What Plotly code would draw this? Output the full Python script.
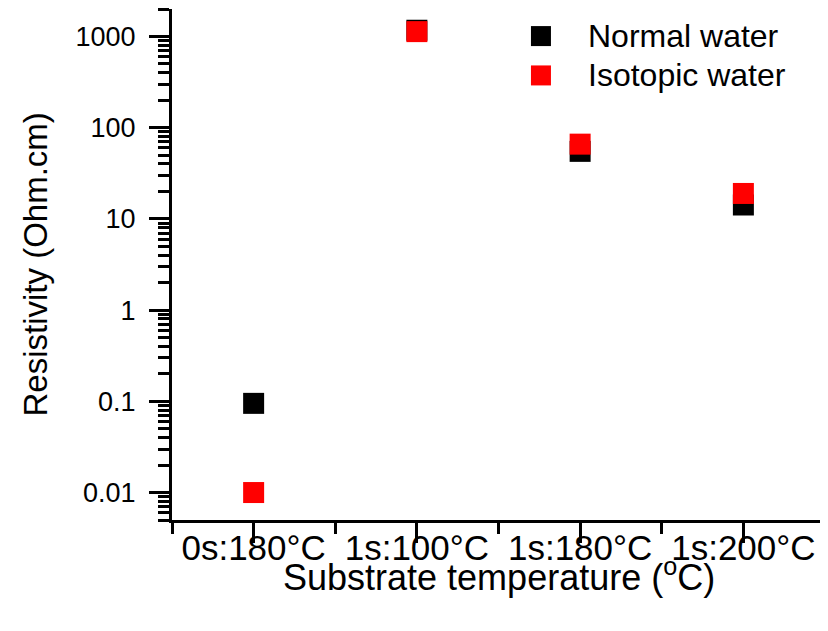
import math
import plotly.graph_objects as go

# ---- data ----
categories = ["0s:180°C", "1s:100°C", "1s:180°C", "1s:200°C"]
normal_water = [0.095, 1170, 55, 14.2]
isotopic_water = [0.010, 1130, 66, 19]
series_names = ["Normal water", "Isotopic water"]
series_colors = ["#000000", "#FF0000"]
y_tick_vals = [0.01, 0.1, 1, 10, 100, 1000]
y_tick_text = ["0.01", "0.1", "1", "10", "100", "1000"]
x_title = "Substrate temperature (<sup>o</sup>C)"
y_title = "Resistivity (Ohm.cm)"

FONT = "Liberation Sans, Arial, sans-serif"
xpos = list(range(len(categories)))

fig = go.Figure()
for name, vals, col in zip(series_names, [normal_water, isotopic_water], series_colors):
    fig.add_trace(go.Scatter(
        x=xpos, y=vals, mode="markers", name=name, showlegend=False,
        marker=dict(symbol="square", size=21, color=col, line=dict(width=0)),
        cliponaxis=False,
    ))

# legend swatches on an overlay axis (0..1)
leg_y = [0.947, 0.870]
for name, col, ly in zip(series_names, series_colors, leg_y):
    fig.add_trace(go.Scatter(
        x=[0.565], y=[ly], mode="markers", showlegend=False, xaxis="x2", yaxis="y2",
        marker=dict(symbol="square", size=20, color=col, line=dict(width=0)),
        hoverinfo="skip",
    ))
    fig.add_annotation(x=0.634, y=ly, xref="paper", yref="paper", text=name,
                       showarrow=False, xanchor="left", yanchor="middle",
                       font=dict(family=FONT, size=32, color="#000000"))

# axis titles
fig.add_annotation(x=0.5, y=-0.157, xref="paper", yref="paper", text=x_title,
                   showarrow=False, xanchor="center", yanchor="bottom",
                   font=dict(family=FONT, size=36, color="#000000"))
fig.add_annotation(x=-0.2098, y=0.5, xref="paper", yref="paper", text=y_title,
                   showarrow=False, xanchor="center", yanchor="middle", textangle=-90,
                   font=dict(family=FONT, size=33, color="#000000"))

minor_y = [k * 10 ** e for e in range(-3, 4) for k in range(2, 10)
           if 0.005 <= k * 10 ** e <= 2000]

# the page body adds an 8px offset, so the figure is 8px smaller and margins shifted
fig.update_layout(
    width=820, height=623,
    paper_bgcolor="white", plot_bgcolor="white",
    margin=dict(l=164, r=3, t=1, b=111),
    font=dict(family=FONT, color="#000000"),
    xaxis=dict(
        range=[-0.5, 3.5], tickvals=xpos, ticktext=categories, automargin=False,
        showgrid=False, zeroline=False, showline=True, linecolor="#000000", linewidth=3,
        ticks="outside", ticklen=20, tickwidth=3, tickcolor="#000000",
        ticklabelstandoff=-25,
        tickfont=dict(family=FONT, size=35, color="#000000"),
        minor=dict(tickvals=[-0.5, 0.5, 1.5, 2.5, 3.5], ticks="outside",
                   ticklen=11, tickwidth=3, tickcolor="#000000", showgrid=False),
    ),
    yaxis=dict(
        type="log", range=[math.log10(0.005), math.log10(2000)], automargin=False,
        tickvals=y_tick_vals, ticktext=y_tick_text,
        showgrid=False, zeroline=False, showline=True, linecolor="#000000", linewidth=3,
        ticks="outside", ticklen=20, tickwidth=3, tickcolor="#000000",
        ticklabelstandoff=8,
        tickfont=dict(family=FONT, size=27, color="#000000"),
        minor=dict(tickvals=minor_y, ticks="outside", ticklen=11, tickwidth=3,
                   tickcolor="#000000", showgrid=False),
    ),
    xaxis2=dict(overlaying="x", range=[0, 1], visible=False),
    yaxis2=dict(overlaying="y", range=[0, 1], visible=False),
)

fig.write_html("out.html")
